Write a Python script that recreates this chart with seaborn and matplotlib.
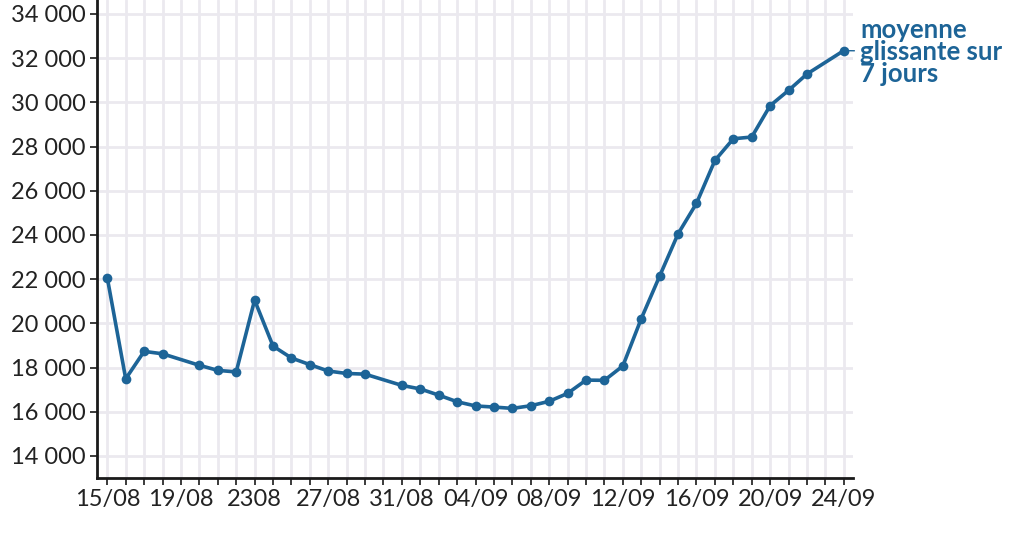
import matplotlib
matplotlib.use("Agg")
import matplotlib.pyplot as plt
import seaborn as sns
import pandas as pd
import numpy as np

# ---- data ----
dates = ["2020-08-15", "2020-08-16", "2020-08-17", "2020-08-18", "2020-08-20",
         "2020-08-21", "2020-08-22", "2020-08-23", "2020-08-24", "2020-08-25",
         "2020-08-26", "2020-08-27", "2020-08-28", "2020-08-29", "2020-08-31",
         "2020-09-01", "2020-09-02", "2020-09-03", "2020-09-04", "2020-09-05",
         "2020-09-06", "2020-09-07", "2020-09-08", "2020-09-09", "2020-09-10",
         "2020-09-11", "2020-09-12", "2020-09-13", "2020-09-14", "2020-09-15",
         "2020-09-16", "2020-09-17", "2020-09-18", "2020-09-19", "2020-09-20",
         "2020-09-21", "2020-09-22", "2020-09-24"]
values = [22050, 17490, 18730, 18620, 18100,
          17870, 17800, 21050, 18970, 18430,
          18130, 17840, 17730, 17700, 17190,
          17030, 16750, 16450, 16260, 16210,
          16150, 16270, 16470, 16830, 17430,
          17420, 18070, 20210, 22140, 24050,
          25430, 27370, 28350, 28430, 29850,
          30540, 31280, 32340]
x_tick_labels = ["15/08", "19/08", "2308", "27/08", "31/08", "04/09",
                 "08/09", "12/09", "16/09", "20/09", "24/09"]
y_ticks = [14000, 16000, 18000, 20000, 22000, 24000, 26000, 28000,
           30000, 32000, 34000]
y_tick_labels = ["14 000", "16 000", "18 000", "20 000", "22 000", "24 000",
                 "26 000", "28 000", "30 000", "32 000", "34 000"]
series_label = "moyenne\nglissante sur\n7 jours"

df = pd.DataFrame({"date": pd.to_datetime(dates), "value": values})
start = pd.Timestamp("2020-08-15")
df["day"] = (df["date"] - start).dt.days

sns.set_theme(style="white")
plt.rcParams["font.family"] = ["Lato", "DejaVu Sans"]

BLUE = "#1d6497"
GRID = "#ebe9ef"

fig = plt.figure(figsize=(10.24, 5.38), dpi=100)
ax = fig.add_axes([97 / 1024, 1 - 478 / 538, (853 - 97) / 1024, 478 / 538])

sns.lineplot(data=df, x="day", y="value", ax=ax, color=BLUE, linewidth=2.6,
             marker="o", markersize=7, markeredgewidth=0, zorder=3)

ax.set_xlim(-0.56, 40.5)
ax.set_ylim(13000, 34630)

days = np.arange(0, 41)
ax.set_xticks(days)
lbls = []
k = 0
for d in days:
    if d % 4 == 0:
        lbls.append(x_tick_labels[k]); k += 1
    else:
        lbls.append("")
ax.set_xticklabels(lbls)
ax.set_yticks(y_ticks)
ax.set_yticklabels(y_tick_labels)

ax.grid(True, color=GRID, linewidth=2, zorder=0)
ax.set_axisbelow(True)
ax.set_xlabel("")
ax.set_ylabel("")

for s in ["top", "right"]:
    ax.spines[s].set_visible(False)
for s in ["left", "bottom"]:
    ax.spines[s].set_color("#1a1a1a")
    ax.spines[s].set_linewidth(2)

ax.tick_params(axis="both", which="major", direction="out", length=5, width=1.2,
               color="#1a1a1a", labelsize=17, labelcolor="#222222", pad=3,
               left=True, bottom=True)

last_x = df["day"].iloc[-1]
last_y = df["value"].iloc[-1]
ax.annotate(series_label, xy=(last_x, last_y), xytext=(12, -1),
            textcoords="offset points", ha="left", va="center",
            fontsize=18.5, fontweight="bold", color=BLUE, linespacing=0.92,
            annotation_clip=False,
            arrowprops=dict(arrowstyle="-", color=BLUE, lw=1,
                            shrinkA=2, shrinkB=4))

fig.savefig("out.png", dpi=100)
